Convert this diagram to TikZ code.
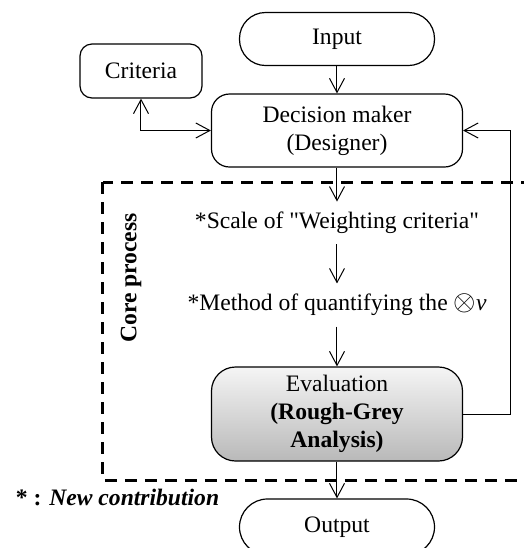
\documentclass[tikz,border=0pt,11pt]{standalone}
\usepackage{fontspec}
\setmainfont{Liberation Serif}
\usetikzlibrary{arrows.meta}
\colorlet{evaltop}{gray!8}
\colorlet{evalbot}{gray!55}
\tikzstyle{chart} = [
  x=1pt, y=1pt,
  line width=0.6pt,
  font=\fontsize{11.8}{14}\selectfont,
  >={Straight Barb[length=7pt,width=7.5pt]},
]
\tikzstyle{terminal} = [draw, rounded corners=13pt, minimum width=97.5pt, minimum height=26.5pt]
\tikzstyle{block} = [draw, rounded corners=9pt, align=center, minimum width=125.5pt, minimum height=36.5pt]
\tikzstyle{side} = [draw, rounded corners=6pt, minimum width=61pt, minimum height=27pt]
\tikzstyle{evalbox} = [block, top color=evaltop, bottom color=evalbot, rounded corners=12pt, minimum height=47pt]
\tikzstyle{stage} = [inner ysep=5pt]
\tikzstyle{flow} = [->, line width=0.5pt]
\tikzstyle{core} = [line width=1.5pt, dash pattern=on 6pt off 4pt]

\begin{document}
\begin{tikzpicture}[chart]
    \useasboundingbox (0,0) rectangle (262,-274);

    % Boxes
    \node[terminal] (input) at (168.5,-19.5) {Input};
    \node[side] (criteria) at (70.5,-35.5) {Criteria};
    \node[block] (dm) at (168.5,-65.25) {Decision maker\\(Designer)};
    \node[stage] (scale) at (168.5,-111.5) {*Scale of \textquotedbl Weighting criteria\textquotedbl};
    \node[stage] (method) at (168.5,-152.5) {*Method of quantifying the {\Large$\otimes$}\textit{v}};
    \node[evalbox] (eval) at (168.5,-207) {Evaluation\\\textbf{(Rough-Grey}\\\textbf{Analysis)}};
    \node[terminal, minimum height=28pt, rounded corners=14pt] (output) at (168.5,-263.5) {Output};
    \coordinate (loop) at (255.5,-65.25);

    % Core process frame
    \draw[core] (51.5,-91) rectangle (275,-240);
    \node[rotate=90] (corelabel) at (65.5,-139) {\bfseries Core process};
    \node[anchor=west] (note) at (4,-248.5) {\bfseries * : \textit{New contribution}};

    % Arrows
    \draw[flow] (input) -- (dm);
    \draw[flow, <->] (criteria.south) |- (dm.west);
    \draw[flow] (dm) -- (scale);
    \draw[flow] (scale) -- (method);
    \draw[flow] (method) -- (eval);
    \draw[flow] (eval) -- (output);
    \draw[flow] (eval.east) -| (loop) -- (dm.east);
\end{tikzpicture}
\end{document}
